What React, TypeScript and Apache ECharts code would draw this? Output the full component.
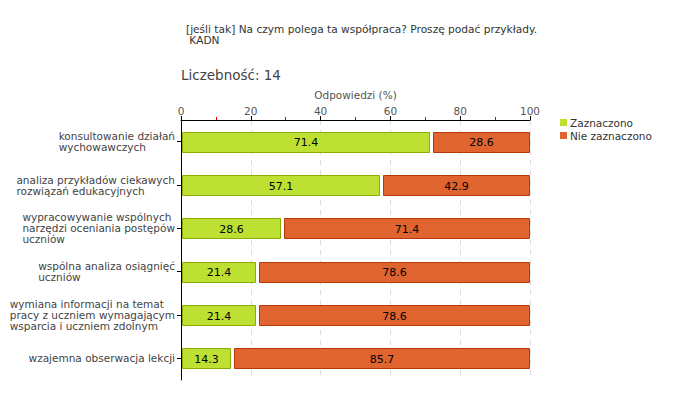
import React, { useEffect, useRef } from "react";
import * as echarts from "echarts";

const categories = [
  "konsultowanie działań\nwychowawczych",
  "analiza przykładów ciekawych\nrozwiązań edukacyjnych",
  "wypracowywanie wspólnych\nnarzędzi oceniania postępów\nuczniów",
  "wspólna analiza osiągnięć\nuczniów",
  "wymiana informacji na temat\npracy z uczniem wymagającym\nwsparcia i uczniem zdolnym",
  "wzajemna obserwacja lekcji",
];
const zaznaczono = [71.4, 57.1, 28.6, 21.4, 21.4, 14.3];
const nieZaznaczono = [28.6, 42.9, 71.4, 78.6, 78.6, 85.7];
const seriesNames = ["Zaznaczono", "Nie zaznaczono"];
const titleText = "[jeśli tak] Na czym polega ta współpraca? Proszę podać przykłady.\n KADN";
const countText = "Liczebność: 14";
const axisName = "Odpowiedzi (%)";

const FONT = "'DejaVu Sans', Verdana, sans-serif";
const GREEN = "#bee032";
const GREEN_B = "#8cad00";
const ORANGE = "#e06430";
const ORANGE_B = "#b53a08";

function makeRender(fill: string, stroke: string, gapLeft: number) {
  return (params: any, api: any) => {
    const cat = api.value(0);
    const start = api.value(1);
    const val = api.value(2);
    const p0 = api.coord([start, cat]);
    const p1 = api.coord([start + val, cat]);
    const band = api.size([0, 1])[1];
    const h = Math.round(band * 0.46);
    const x0 = Math.round(p0[0]) + gapLeft + 0.5;
    const x1 = Math.round(p1[0]) - 0.5;
    const y0 = Math.round(p0[1] - h / 2) + 0.5;
    return {
      type: "group",
      children: [
        {
          type: "rect",
          shape: { x: x0, y: y0, width: x1 - x0, height: h },
          style: { fill, stroke, lineWidth: 1 },
        },
        {
          type: "text",
          x: (x0 + x1) / 2,
          y: p0[1] + 1,
          style: {
            text: val.toFixed(1),
            align: "center",
            verticalAlign: "middle",
            fill: "#000",
            font: `11px ${FONT}`,
          },
        },
      ],
    };
  };
}

export default function App() {
  const ref = useRef<HTMLDivElement>(null);
  useEffect(() => {
    if (!ref.current) return;
    const chart = echarts.init(ref.current, undefined, { renderer: "svg" });
    const greenData = zaznaczono.map((v, i) => [i, 0, v]);
    const orangeData = nieZaznaczono.map((v, i) => [i, zaznaczono[i], v]);
    chart.setOption({
      animation: false,
      backgroundColor: "#fff",
      title: [
        {
          text: titleText,
          left: 181,
          top: 18,
          textStyle: { fontFamily: FONT, fontSize: 10.6, fontWeight: "normal", color: "#333", lineHeight: 11 },
        },
        {
          text: countText,
          left: 176,
          top: 63,
          textStyle: { fontFamily: FONT, fontSize: 13.5, fontWeight: "normal", color: "#444" },
        },
      ],
      legend: {
        orient: "vertical",
        left: 555,
        top: 112,
        itemWidth: 7,
        itemHeight: 7,
        itemGap: 2,
        icon: "rect",
        data: seriesNames,
        textStyle: { fontFamily: FONT, fontSize: 10.5, color: "#333", padding: [0, 0, 0, -2] },
      },
      grid: { left: 181, top: 120, width: 349, height: 260, containLabel: false },
      xAxis: {
        type: "value",
        position: "top",
        min: 0,
        max: 100,
        interval: 20,
        name: axisName,
        nameLocation: "middle",
        nameGap: 15,
        nameTextStyle: { fontFamily: FONT, fontSize: 10.5, color: "#555" },
        axisLine: { show: true, lineStyle: { color: "#000", width: 1 } },
        axisTick: { show: true, length: 4, lineStyle: { color: "#000" } },
        minorTick: { show: true, splitNumber: 2, length: 3, lineStyle: { color: "#e00000" } },
        axisLabel: { fontFamily: FONT, fontSize: 10.5, color: "#555", margin: 4 },
        splitLine: { show: true, lineStyle: { color: "#dcdcdc", type: [5, 5] } },
      },
      yAxis: {
        type: "category",
        inverse: true,
        data: categories,
        axisLine: { show: true, lineStyle: { color: "#000", width: 1 } },
        axisTick: { show: true, alignWithLabel: true, length: 4, lineStyle: { color: "#000" } },
        axisLabel: {
          margin: 6,
          formatter: (v: string) => v.split("\n").map((l) => `{a|${l}}`).join("\n"),
          rich: {
            a: { fontFamily: FONT, fontSize: 10.5, color: "#444", lineHeight: 11, align: "left" },
          },
        },
        splitLine: { show: false },
      },
      series: [
        {
          name: seriesNames[0],
          type: "custom",
          renderItem: makeRender(GREEN, GREEN_B, 1),
          itemStyle: { color: GREEN },
          encode: { x: [1, 2], y: 0 },
          data: greenData,
        },
        {
          name: seriesNames[1],
          type: "custom",
          renderItem: makeRender(ORANGE, ORANGE_B, 3),
          itemStyle: { color: ORANGE },
          encode: { x: [1, 2], y: 0 },
          data: orangeData,
        },
      ],
    });
    return () => chart.dispose();
  }, []);
  return (
    <div style={{ position: "fixed", left: 0, top: 0, width: 680, height: 400, background: "#fff" }}>
      <div ref={ref} style={{ width: 680, height: 400 }} />
    </div>
  );
}
